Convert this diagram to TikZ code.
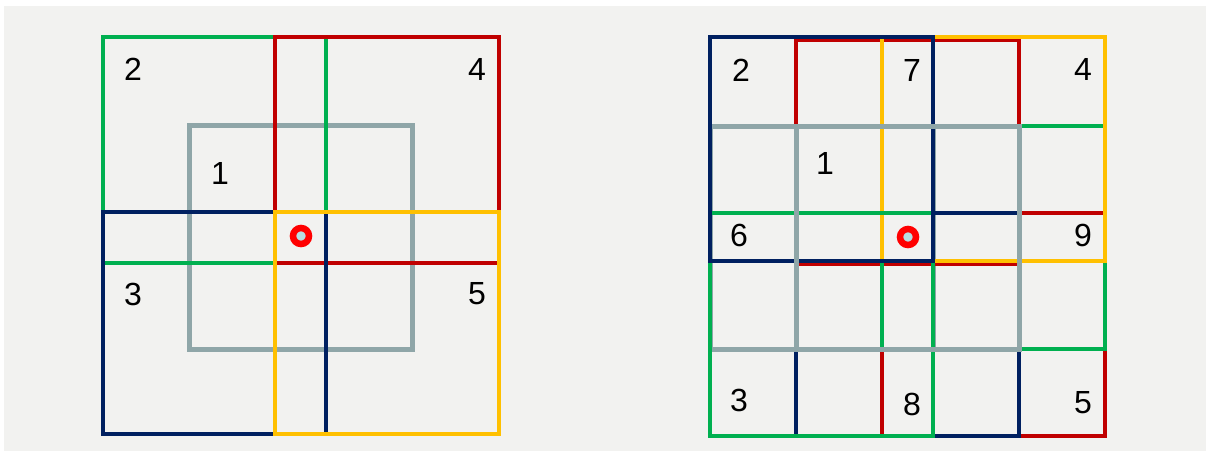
\documentclass[tikz,border=0pt]{standalone}
\usepackage{fontspec}
\setmainfont{Liberation Sans}
\definecolor{bgpanel}{RGB}{242,242,240}
\definecolor{cgreen}{RGB}{0,176,80}
\definecolor{cred}{RGB}{192,0,0}
\definecolor{cnavy}{RGB}{0,32,96}
\definecolor{cyellow}{RGB}{255,192,0}
\definecolor{cgray}{RGB}{143,166,168}
\definecolor{dotred}{RGB}{255,0,0}
\definecolor{dotfill}{RGB}{183,221,226}
\begin{document}
\begin{tikzpicture}[x=1pt,y=-1pt,
  frame/.style={line width=4.6pt},
  grayframe/.style={frame,draw=cgray,line width=5pt},
  lbl/.style={inner sep=0pt,font=\fontsize{32}{38}\selectfont},
  marker/.style={circle,draw=dotred,fill=dotfill,line width=6.5pt,minimum size=16pt,inner sep=0pt}]
\useasboundingbox (0,0) rectangle (1206,453);
\fill[white] (0,0) rectangle (1206,453);
\fill[bgpanel] (4,6) rectangle (1206,451);

% ---------- left diagram ----------
\draw[grayframe] (189,125) rectangle (412,349);
\draw[frame,draw=cgreen] (103,37) rectangle (326,263);
\draw[frame,draw=cred] (275,37) rectangle (499,263);
\draw[frame,draw=cnavy] (103,212) rectangle (326,434);
\draw[frame,draw=cyellow] (275,212) rectangle (499,434);
\node[marker] (dotL) at (301,236) {};
\node[lbl] (L2) at (133,69) {2};
\node[lbl] (L4) at (477,69) {4};
\node[lbl] (L1) at (220,173) {1};
\node[lbl] (L3) at (133,294) {3};
\node[lbl] (L5) at (477,294) {5};

% ---------- right diagram ----------
% grid x: 710 796 882 933 1019 1105 ; y: 37 126 213 261 349 436
\draw[grayframe] (710,126) rectangle (933,349);
\draw[frame,draw=cred] (796,40) rectangle (1019,263.5);
\draw[frame,draw=cred] (882,213) rectangle (1105,436);
\draw[frame,draw=cgreen] (882,126) rectangle (1105,349);
\draw[frame,draw=cnavy] (796,213) rectangle (1019,436);
\draw[frame,draw=cyellow] (882,37) rectangle (1105,261);
\draw[frame,draw=cgreen] (710,213) rectangle (933,436);
\draw[frame,draw=cnavy] (710,37) rectangle (933,261);
\draw[grayframe] (796,126) rectangle (1019,349);
\node[marker] (dotR) at (908,237) {};
\node[lbl] (R2) at (741,70) {2};
\node[lbl] (R7) at (912,70) {7};
\node[lbl] (R4) at (1083,69) {4};
\node[lbl] (R1) at (825,163) {1};
\node[lbl] (R6) at (739,235) {6};
\node[lbl] (R9) at (1083,235) {9};
\node[lbl] (R3) at (739,400) {3};
\node[lbl] (R8) at (912,404) {8};
\node[lbl] (R5) at (1083,403) {5};
\end{tikzpicture}
\end{document}
